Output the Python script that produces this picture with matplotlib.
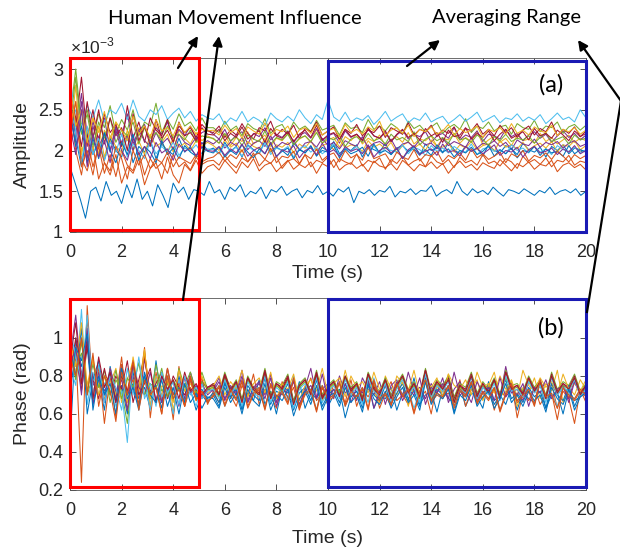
import numpy as np
import matplotlib.pyplot as plt
from matplotlib.patches import Rectangle
from matplotlib.ticker import FuncFormatter

# MATLAB default line colours
line_colors = ["#0072BD", "#D95319", "#EDB120", "#7E2F8E", "#77AC30", "#4DBEEE", "#A2142F"]

# ---- data (one sample every 0.2 s, 0..20 s) ----
# amplitude, in units of 1e-5
amp_1 = [180, 160, 140, 117, 150, 155, 138, 162, 145, 150, 135, 158, 142, 165, 140, 150, 132, 158, 145, 130, 160, 148, 155, 140, 152,
         150, 145, 162, 148, 152, 140, 155, 150, 158, 143, 150, 147, 155, 141, 152, 149, 156, 145, 150, 153, 142, 151, 148, 157, 146,
         150, 144, 153, 149, 155, 136, 150, 147, 152, 145, 151, 149, 156, 143, 150, 148, 153, 146, 151, 150, 157, 144, 149, 152, 147,
         162, 150, 145, 153, 148, 151, 146, 155, 149, 144, 152, 150, 147, 153, 149, 145, 151, 148, 155, 146, 150, 152, 148, 153, 145, 150]
amp_2 = [200, 240, 190, 175, 205, 165, 185, 170, 195, 160, 180, 172, 190, 158, 178, 185, 165, 192, 170, 160, 183, 175, 188, 172, 180,
         183, 176, 188, 180, 172, 186, 179, 190, 175, 182, 185, 174, 181, 188, 177, 183, 179, 186, 172, 184, 180, 189, 176, 182, 185,
         178, 183, 174, 187, 181, 179, 184, 176, 188, 182, 175, 183, 180, 186, 178, 184, 172, 181, 187, 179, 183, 176, 185, 181, 178,
         189, 182, 175, 184, 180, 186, 177, 183, 181, 188, 174, 182, 185, 179, 183, 176]
amp_3 = [230, 260, 200, 215, 240, 195, 225, 210, 235, 205, 220, 200, 228, 212, 205, 232, 210, 220, 198, 225, 215, 208, 222, 212, 218,
         214, 209, 220, 206, 216, 211, 223, 208, 213, 219, 205, 215, 212, 221, 207, 214, 218, 210, 226, 209, 213, 216, 204, 217, 212,
         220, 208, 215, 211, 219, 206, 213, 217, 210, 222, 208, 214, 212, 218, 205, 215, 213, 220, 209, 216, 211, 224, 207, 213, 218,
         210, 215, 206, 219, 212, 214, 209, 221, 211, 216, 208, 213, 219, 210, 215, 212]
amp_4 = [250, 220, 270, 205, 235, 215, 240, 200, 230, 218, 245, 208, 225, 232, 210, 228, 220, 235, 212, 226, 218, 230, 214, 222, 225,
         220, 214, 226, 211, 219, 223, 208, 221, 217, 228, 213, 220, 216, 224, 210, 219, 222, 215, 227, 212, 218, 221, 209, 224, 216,
         220, 213, 226, 218, 215, 222, 211, 219, 225, 214, 220, 217, 223, 210, 218, 221, 215, 228, 213, 219, 216, 224, 211, 220, 218,
         214, 226, 217, 221, 212, 219, 223, 215, 220, 210, 218, 224, 216, 221, 213, 219]
amp_5 = [240, 300, 230, 250, 215, 245, 228, 255, 220, 238, 225, 250, 218, 235, 230, 258, 222, 238, 226, 245, 230, 235, 224, 240, 228,
         228, 222, 236, 225, 230, 218, 233, 227, 224, 239, 221, 229, 232, 220, 235, 226, 230, 223, 237, 225, 228, 231, 219, 234, 227,
         229, 222, 238, 226, 230, 224, 233, 228, 220, 236, 227, 231, 223, 229, 234, 221, 228, 232, 226, 239, 222, 230, 227, 235, 224,
         229, 231, 220, 233, 228, 226, 237, 223, 230, 228, 235, 221, 229, 232, 225, 231]
amp_6 = [220, 250, 230, 255, 240, 262, 235, 250, 245, 258, 238, 262, 242, 236, 250, 244, 255, 238, 246, 252, 240, 248, 236, 244, 240,
         238, 245, 232, 240, 236, 248, 235, 241, 237, 230, 246, 239, 235, 242, 236, 250, 240, 233, 244, 238, 262, 241, 236, 247, 235,
         240, 237, 243, 232, 239, 248, 236, 241, 245, 234, 240, 237, 246, 235, 239, 242, 233, 238, 244, 236, 241, 247, 235, 239, 243,
         234, 240, 238, 245, 236, 241, 237, 244, 233, 239, 246, 238, 241, 235, 250, 240]
amp_7 = [260, 230, 290, 215, 250, 210, 245, 222, 232, 205, 255, 215, 235, 210, 240, 225, 218, 238, 212, 230, 222, 228, 216, 232, 224,
         222, 230, 216, 225, 219, 233, 221, 214, 228, 224, 236, 218, 226, 220, 231, 215, 227, 223, 235, 219, 224, 229, 213, 226, 221,
         232, 218, 225, 222, 230, 216, 228, 224, 220, 234, 219, 226, 223, 231, 217, 225, 221, 229, 215, 227, 224, 233, 220, 226, 218,
         231, 222, 228, 216, 225, 230, 219, 227, 223, 235, 218, 226, 221, 229, 217, 224]
amp_8 = [290, 215, 180, 225, 195, 210, 188, 215, 200, 192, 218, 185, 205, 198, 212, 190, 208, 200, 195, 215, 198, 205, 192, 210, 200,
         203, 196, 210, 199, 205, 192, 207, 201, 196, 212, 198, 204, 200, 194, 209, 202, 197, 206, 193, 204, 199, 211, 196, 203, 200,
         207, 192, 205, 201, 198, 209, 195, 203, 206, 199, 202, 194, 208, 200, 204, 197, 210, 201, 196, 205, 199, 203, 193, 207, 200,
         197, 206, 202, 195, 209, 201, 198, 204, 192, 205, 200, 207, 196, 203, 201, 198]
amp_9 = [260, 200, 170, 215, 180, 205, 172, 195, 168, 200, 182, 175, 198, 170, 190, 178, 185, 172, 195, 180, 186, 176, 192, 183, 187,
         188, 182, 194, 185, 179, 191, 186, 197, 181, 189, 184, 193, 178, 187, 190, 183, 195, 180, 188, 185, 192, 179, 190, 186, 183,
         196, 181, 188, 185, 191, 177, 189, 184, 193, 182, 187, 190, 180, 194, 186, 183, 189, 179, 192, 185, 188, 182, 195, 184, 187,
         181, 190, 186, 178, 193, 185, 189, 183, 191, 180, 188, 186, 194, 182, 187, 185]
amp_10 = [210, 280, 195, 225, 200, 230, 192, 218, 205, 198, 225, 200, 212, 195, 220, 205, 210, 198, 215, 204, 209, 200, 212, 206, 210,
          206, 200, 213, 204, 209, 198, 211, 205, 202, 215, 199, 207, 204, 210, 197, 208, 203, 212, 200, 206, 209, 201, 214, 203, 207,
          205, 199, 212, 204, 208, 202, 210, 197, 206, 211, 203, 208, 200, 213, 205, 204, 209, 198, 207, 203, 211, 201, 206, 208, 199,
          212, 204, 207, 202, 210, 200, 206, 209, 203, 211, 198, 207, 205, 212, 201, 206]
amp_11 = [240, 210, 260, 190, 230, 205, 220, 198, 228, 210, 218, 200, 225, 212, 205, 222, 208, 215, 202, 220, 210, 206, 216, 208, 212,
          208, 214, 203, 210, 206, 216, 201, 209, 212, 205, 218, 204, 210, 207, 213, 200, 209, 211, 204, 215, 206, 210, 202, 212, 208,
          205, 217, 203, 209, 211, 206, 214, 201, 208, 210, 204, 213, 207, 209, 202, 215, 206, 211, 208, 204, 216, 203, 209, 207, 212,
          205, 210, 201, 213, 208, 206, 214, 204, 210, 207, 211, 203, 209, 212, 205, 208]
amp_12 = [230, 290, 220, 245, 205, 235, 215, 240, 210, 225, 218, 235, 208, 228, 215, 222, 212, 230, 216, 220, 213, 225, 210, 218, 216,
          215, 209, 221, 212, 217, 206, 219, 214, 211, 224, 208, 216, 213, 220, 207, 215, 218, 211, 222, 209, 216, 213, 219, 205, 214,
          217, 210, 221, 212, 215, 208, 220, 213, 216, 211, 223, 207, 214, 218, 212, 216, 209, 221, 213, 215, 210, 219, 214, 206, 217,
          212, 220, 211, 215, 213, 218, 209, 216, 222, 211, 214, 217, 208, 219, 213, 215]
amp_13 = [300, 220, 185, 230, 195, 215, 188, 210, 198, 220, 192, 208, 200, 190, 212, 196, 205, 198, 210, 194, 203, 199, 207, 196, 202,
          201, 196, 207, 199, 204, 193, 206, 200, 197, 209, 195, 203, 200, 205, 192, 202, 206, 198, 204, 196, 201, 208, 194, 203, 199,
          205, 197, 202, 206, 195, 203, 200, 198, 207, 196, 204, 201, 194, 206, 199, 203, 197, 205, 200, 198, 208, 195, 202, 204, 199,
          201, 196, 207, 200, 203, 197, 205, 198, 202, 195, 206, 201, 199, 204, 197, 201]
amp_14 = [270, 240, 205, 260, 215, 250, 208, 240, 218, 228, 200, 245, 212, 230, 206, 238, 215, 225, 210, 235, 218, 222, 212, 228, 220,
          219, 226, 212, 221, 216, 229, 214, 220, 224, 210, 227, 218, 215, 223, 211, 220, 225, 216, 231, 213, 219, 222, 214, 226, 217,
          220, 212, 228, 218, 215, 224, 211, 220, 226, 216, 221, 213, 227, 218, 222, 210, 225, 217, 219, 228, 214, 221, 216, 224, 212,
          220, 226, 215, 219, 223, 213, 227, 218, 221, 215, 225, 219, 212, 224, 217, 221]
amp_15 = [250, 205, 230, 185, 215, 190, 222, 200, 185, 210, 195, 220, 188, 205, 198, 185, 212, 195, 203, 190, 206, 198, 193, 204, 199,
          197, 204, 192, 200, 195, 207, 198, 191, 202, 196, 209, 193, 199, 203, 190, 201, 197, 205, 194, 200, 198, 206, 191, 202, 196,
          199, 204, 193, 208, 197, 200, 195, 203, 190, 199, 205, 196, 201, 194, 207, 198, 202, 192, 200, 197, 204, 195, 199, 206, 193,
          201, 196, 203, 191, 200, 198, 205, 194, 202, 197, 199, 193, 206, 196, 201, 198]
amp_16 = [220, 260, 180, 200, 170, 210, 185, 175, 205, 190, 165, 200, 182, 195, 178, 190, 185, 198, 180, 192, 188, 184, 195, 186, 190,
          192, 198, 187, 195, 190, 201, 186, 194, 197, 189, 203, 185, 193, 191, 199, 184, 195, 190, 202, 188, 194, 197, 186, 200, 191,
          195, 188, 204, 190, 193, 196, 185, 198, 192, 189, 201, 187, 195, 193, 199, 186, 194, 190, 197, 188, 202, 191, 196, 189, 193,
          198, 185, 196, 192, 200, 187, 194, 191, 197, 189, 199, 193, 186, 195, 190, 194]
amp_17 = [280, 230, 250, 210, 240, 222, 248, 215, 235, 225, 212, 242, 220, 230, 216, 238, 224, 228, 218, 234, 222, 230, 220, 226, 224,
          225, 219, 231, 222, 227, 215, 229, 224, 220, 234, 218, 226, 223, 230, 216, 225, 228, 221, 233, 219, 224, 227, 217, 232, 222,
          226, 220, 229, 224, 236, 218, 225, 228, 221, 231, 217, 226, 223, 229, 220, 224, 232, 219, 227, 222, 225, 230, 216, 226, 223,
          228, 220, 233, 221, 225, 219, 229, 224, 222, 231, 218, 226, 223, 228, 220, 225]
amp_18 = [230, 195, 250, 180, 220, 192, 212, 185, 225, 200, 188, 215, 195, 205, 190, 210, 197, 202, 188, 208, 199, 203, 194, 205, 200,
          199, 205, 194, 202, 197, 208, 193, 200, 204, 196, 210, 192, 201, 198, 206, 191, 200, 203, 195, 209, 197, 201, 193, 205, 199,
          202, 196, 207, 192, 200, 204, 197, 203, 190, 201, 206, 195, 199, 202, 194, 208, 198, 200, 193, 205, 199, 203, 196, 201, 207,
          194, 200, 198, 204, 192, 201, 205, 197, 199, 203, 195, 202, 198, 206, 196, 200]

# phase, in hundredths of a radian
phase_1 = [45, 100, 85, 95, 65, 78, 62, 85, 70, 75, 60, 82, 68, 74, 63, 88, 66, 72, 60, 80, 67, 73, 62, 70, 66,
           70, 64, 76, 68, 73, 62, 71, 67, 78, 65, 72, 60, 74, 69, 66, 77, 63, 71, 68, 75, 64, 70, 73, 58, 69,
           72, 66, 76, 63, 70, 68, 74, 62, 71, 67, 79, 65, 70, 72, 61, 73, 68, 66, 75, 64, 71, 69, 63, 77, 67,
           70, 65, 74, 62, 72, 68, 66, 76, 63, 70, 71, 60, 73, 67, 69, 72]
phase_2 = [80, 95, 24, 117, 70, 85, 55, 80, 68, 90, 62, 75, 72, 95, 58, 82, 66, 78, 57, 85, 64, 74, 68, 79, 65,
           72, 66, 78, 70, 64, 75, 69, 81, 65, 73, 70, 63, 77, 68, 74, 62, 72, 79, 67, 71, 65, 76, 70, 66, 78,
           64, 73, 69, 75, 63, 71, 77, 67, 70, 65, 74, 68, 72, 60, 76, 69, 71, 66, 78, 64, 73, 70, 68, 75, 62,
           72, 69, 77, 58, 71, 67, 74, 65, 70, 76, 63, 72, 68, 55, 73, 66]
phase_3 = [95, 82, 100, 72, 88, 75, 68, 84, 70, 80, 66, 90, 73, 94, 64, 78, 70, 84, 62, 77, 72, 80, 67, 75, 71,
           74, 69, 80, 71, 76, 66, 78, 72, 70, 82, 68, 75, 73, 79, 65, 74, 77, 70, 81, 67, 73, 76, 69, 83, 71,
           75, 68, 78, 72, 66, 80, 73, 70, 77, 64, 75, 71, 79, 68, 74, 72, 81, 66, 76, 70, 73, 78, 67, 75, 82,
           69, 72, 77, 64, 74, 71, 79, 68, 76, 72, 83, 66, 74, 70, 78, 73]
phase_4 = [90, 112, 80, 100, 65, 82, 72, 78, 68, 86, 70, 80, 64, 89, 72, 75, 66, 84, 70, 78, 68, 82, 72, 76, 70,
           73, 79, 68, 75, 71, 83, 67, 74, 77, 70, 81, 66, 75, 72, 78, 64, 74, 84, 69, 73, 76, 68, 80, 71, 74,
           67, 79, 73, 70, 77, 65, 75, 78, 69, 82, 72, 74, 68, 76, 71, 79, 66, 73, 77, 70, 80, 67, 74, 72, 78,
           69, 85, 71, 73, 67, 77, 72, 75, 69, 80, 70, 74, 68, 78, 71, 75]
phase_5 = [100, 85, 92, 70, 80, 74, 83, 66, 78, 72, 55, 84, 74, 80, 68, 86, 72, 76, 67, 84, 74, 78, 70, 82, 73,
           76, 71, 82, 73, 78, 68, 80, 74, 72, 84, 70, 77, 75, 81, 67, 76, 79, 72, 83, 70, 75, 78, 71, 80, 74,
           77, 69, 82, 75, 72, 79, 70, 76, 81, 73, 77, 71, 84, 72, 78, 75, 80, 69, 76, 74, 82, 71, 77, 73, 79,
           70, 83, 75, 76, 72, 80, 74, 78, 70, 82, 73, 77, 75, 81, 72, 76]
phase_6 = [85, 75, 115, 65, 82, 70, 76, 80, 64, 72, 45, 86, 70, 78, 62, 80, 69, 74, 60, 78, 66, 72, 64, 76, 67,
           70, 75, 64, 72, 68, 78, 66, 71, 74, 63, 76, 69, 72, 67, 80, 65, 71, 73, 62, 75, 68, 70, 77, 64, 72,
           69, 74, 66, 79, 68, 71, 65, 76, 70, 73, 63, 72, 78, 67, 71, 69, 75, 64, 73, 70, 77, 66, 72, 68, 74,
           62, 71, 76, 67, 70, 73, 65, 78, 69, 71, 64, 75, 70, 68, 73, 70]
phase_7 = [80, 100, 72, 95, 78, 68, 84, 70, 80, 73, 88, 66, 78, 90, 70, 76, 82, 68, 80, 74, 70, 79, 72, 77, 74,
           76, 70, 81, 73, 77, 67, 79, 74, 71, 83, 69, 76, 74, 80, 66, 75, 78, 71, 82, 69, 74, 77, 70, 79, 73,
           76, 68, 81, 74, 71, 78, 69, 75, 80, 72, 76, 70, 83, 71, 77, 74, 79, 68, 75, 73, 81, 70, 76, 72, 78,
           69, 82, 74, 75, 71, 79, 73, 77, 69, 81, 72, 76, 74, 80, 71, 75]
phase_8 = [95, 80, 105, 60, 78, 88, 70, 82, 66, 85, 70, 76, 64, 82, 71, 75, 63, 80, 68, 74, 66, 78, 69, 73, 68,
           71, 66, 77, 69, 74, 63, 75, 70, 67, 79, 65, 72, 70, 76, 62, 71, 74, 67, 78, 64, 70, 73, 66, 76, 69,
           72, 63, 77, 70, 67, 75, 65, 71, 76, 68, 72, 64, 79, 67, 73, 70, 75, 61, 72, 69, 77, 66, 71, 74, 65,
           70, 78, 68, 71, 66, 74, 69, 72, 63, 76, 70, 67, 75, 64, 71, 73]
phase_9 = [100, 88, 75, 110, 68, 84, 74, 80, 58, 86, 72, 78, 65, 92, 70, 74, 60, 84, 70, 76, 64, 80, 68, 72, 67,
           69, 74, 64, 72, 67, 77, 63, 70, 73, 62, 75, 68, 71, 65, 78, 63, 70, 72, 61, 74, 67, 69, 76, 64, 71,
           68, 73, 62, 77, 67, 70, 64, 75, 69, 72, 60, 71, 77, 66, 70, 68, 74, 63, 72, 69, 76, 65, 71, 67, 73,
           61, 70, 75, 66, 69, 72, 64, 77, 68, 70, 63, 74, 69, 67, 72, 69]
phase_10 = [98, 85, 108, 75, 90, 70, 80, 76, 84, 66, 78, 88, 72, 93, 68, 80, 74, 78, 66, 83, 72, 76, 70, 80, 72,
            75, 80, 70, 77, 73, 83, 69, 76, 79, 71, 82, 68, 76, 73, 81, 67, 75, 78, 72, 84, 70, 76, 79, 69, 80,
            74, 77, 71, 82, 73, 75, 68, 80, 76, 72, 83, 70, 77, 74, 79, 69, 81, 75, 73, 78, 70, 82, 74, 76, 71,
            80, 73, 78, 69, 83, 75, 72, 79, 74, 77, 70, 81, 73, 76, 72, 78]
phase_11 = [85, 95, 70, 105, 75, 80, 66, 84, 72, 78, 62, 86, 74, 70, 82, 67, 80, 72, 77, 64, 79, 71, 75, 68, 73,
            72, 77, 67, 74, 70, 80, 66, 73, 76, 68, 79, 64, 73, 71, 77, 65, 72, 75, 68, 81, 67, 73, 70, 76, 66,
            74, 71, 78, 63, 72, 75, 69, 77, 67, 73, 70, 79, 65, 74, 71, 76, 68, 82, 70, 72, 66, 77, 71, 74, 67,
            79, 69, 73, 70, 76, 64, 74, 71, 78, 68, 73, 75, 66, 77, 70, 72]
phase_12 = [92, 78, 98, 72, 86, 74, 80, 70, 83, 68, 79, 74, 87, 70, 76, 73, 84, 69, 78, 72, 75, 82, 71, 77, 73,
            74, 69, 79, 72, 76, 67, 78, 73, 70, 81, 68, 75, 72, 78, 66, 74, 77, 70, 80, 68, 73, 76, 71, 79, 72,
            75, 67, 80, 73, 70, 77, 69, 74, 79, 71, 75, 68, 82, 70, 76, 73, 78, 67, 74, 72, 80, 69, 75, 71, 77,
            68, 79, 73, 74, 70, 78, 72, 76, 68, 80, 71, 75, 73, 79, 70, 74]
phase_13 = [105, 90, 78, 112, 70, 86, 66, 80, 74, 62, 84, 70, 90, 68, 76, 64, 82, 71, 77, 65, 80, 70, 74, 68, 72,
            73, 68, 78, 70, 75, 64, 77, 71, 69, 80, 66, 74, 71, 77, 63, 73, 76, 69, 79, 66, 72, 75, 68, 78, 70,
            74, 65, 79, 72, 69, 76, 67, 73, 78, 70, 74, 66, 81, 69, 75, 72, 77, 64, 73, 71, 79, 68, 74, 70, 76,
            67, 80, 72, 73, 69, 77, 71, 75, 66, 79, 70, 74, 72, 78, 69, 73]
phase_14 = [88, 108, 76, 98, 68, 90, 74, 82, 66, 80, 72, 87, 70, 76, 84, 66, 80, 73, 78, 68, 82, 72, 76, 70, 74,
            75, 70, 80, 72, 77, 66, 79, 73, 70, 82, 68, 76, 73, 79, 65, 75, 78, 70, 81, 68, 74, 77, 69, 80, 72,
            76, 67, 81, 73, 70, 78, 68, 75, 80, 71, 76, 69, 83, 70, 77, 73, 78, 66, 75, 72, 80, 69, 76, 71, 78,
            68, 82, 73, 75, 70, 79, 72, 77, 68, 80, 71, 76, 73, 79, 70, 75]
phase_15 = [70, 95, 88, 102, 62, 80, 70, 76, 60, 84, 68, 74, 62, 80, 70, 66, 78, 64, 74, 60, 76, 66, 71, 63, 69,
            68, 63, 74, 66, 71, 60, 73, 67, 64, 76, 62, 70, 67, 73, 59, 68, 72, 65, 75, 62, 69, 71, 64, 74, 66,
            70, 61, 75, 68, 65, 72, 63, 69, 74, 66, 70, 62, 77, 65, 71, 68, 73, 60, 70, 67, 75, 64, 69, 72, 63,
            68, 76, 66, 70, 64, 72, 67, 70, 61, 74, 68, 65, 73, 62, 69, 71]
phase_16 = [90, 80, 100, 70, 92, 64, 80, 72, 56, 82, 70, 88, 62, 78, 70, 74, 60, 80, 68, 73, 64, 78, 67, 72, 66,
            70, 75, 65, 73, 68, 78, 64, 71, 74, 63, 76, 69, 72, 66, 79, 64, 71, 73, 62, 75, 68, 70, 77, 65, 72,
            69, 74, 63, 78, 68, 71, 65, 76, 70, 73, 61, 72, 78, 67, 71, 69, 75, 64, 73, 70, 77, 66, 72, 68, 74,
            62, 71, 76, 67, 70, 73, 65, 78, 69, 71, 57, 74, 70, 68, 73, 70]

amp_series = [amp_1, amp_2, amp_3, amp_4, amp_5, amp_6, amp_7, amp_8, amp_9,
              amp_10, amp_11, amp_12, amp_13, amp_14, amp_15, amp_16, amp_17, amp_18]
phase_series = [phase_1, phase_2, phase_3, phase_4, phase_5, phase_6, phase_7, phase_8,
                phase_9, phase_10, phase_11, phase_12, phase_13, phase_14, phase_15, phase_16]

time_ticks = [0, 2, 4, 6, 8, 10, 12, 14, 16, 18, 20]
amp_ticks = [1e-3, 1.5e-3, 2e-3, 2.5e-3, 3e-3]
phase_ticks = [0.2, 0.4, 0.6, 0.8, 1.0]
influence_span = (0, 5)
averaging_span = (10, 20)

W, H = 620, 548
note_font = "Lato"
txt = "#262626"
plt.rcParams["font.family"] = "Liberation Sans"

fig = plt.figure(figsize=(W / 100, H / 100), dpi=100)
ax1 = fig.add_axes([70 / W, 1 - 232 / H, 516 / W, 174 / H])
ax2 = fig.add_axes([70 / W, 1 - 490 / H, 516 / W, 192 / H])

for i, y in enumerate(amp_series):
    y = np.array(y) * 1e-5
    t = np.linspace(0, 20, len(y))
    ax1.plot(t, y, color=line_colors[i % 7], lw=0.75)

for i, y in enumerate(phase_series):
    y = np.array(y) / 100
    t = np.linspace(0, 20, len(y))
    ax2.plot(t, y, color=line_colors[i % 7], lw=0.75)

ax1.set_ylim(1e-3, 3.135e-3)
ax2.set_ylim(0.2, 1.21)
ax1.set_yticks(amp_ticks)
ax2.set_yticks(phase_ticks)
ax1.yaxis.set_major_formatter(FuncFormatter(lambda v, _: f"{v * 1e3:g}"))
ax2.yaxis.set_major_formatter(FuncFormatter(lambda v, _: f"{v:g}"))

for ax in (ax1, ax2):
    ax.set_xlim(0, 20)
    ax.set_xticks(time_ticks)
    ax.tick_params(direction="in", top=True, right=True, length=4, width=0.6,
                   color="#333333", labelsize=13, labelcolor=txt, pad=5)
    ax.tick_params(axis="x", pad=8.5)
    for sp in ax.spines.values():
        sp.set_color("#555555")
        sp.set_linewidth(0.6)

ax1.set_xlabel("Time (s)", fontsize=14, color=txt, labelpad=3)
ax2.set_xlabel("Time (s)", fontsize=14, color=txt, labelpad=8)
ax1.set_ylabel("Amplitude", fontsize=14, color=txt, labelpad=5)
ax2.set_ylabel("Phase (rad)", fontsize=14, color=txt, labelpad=5)
ax1.text(0.0, 1.012, "×10$^{\\mathregular{-3}}$", transform=ax1.transAxes, ha="left", va="bottom",
         fontsize=12.5, color=txt)

# highlighted ranges
ax1.add_patch(Rectangle((influence_span[0], 1.025e-3), influence_span[1] - influence_span[0], 2.105e-3,
                        fill=False, ec="#ff0000", lw=2.2, clip_on=False, zorder=5))
ax1.add_patch(Rectangle((averaging_span[0], 1.0e-3), averaging_span[1] - averaging_span[0], 2.098e-3,
                        fill=False, ec="#1a1ab4", lw=2.2, clip_on=False, zorder=5))
ax2.add_patch(Rectangle((influence_span[0], 0.217), influence_span[1] - influence_span[0], 0.988,
                        fill=False, ec="#ff0000", lw=2.2, clip_on=False, zorder=5))
ax2.add_patch(Rectangle((averaging_span[0], 0.215), averaging_span[1] - averaging_span[0], 0.99,
                        fill=False, ec="#1a1ab4", lw=2.2, clip_on=False, zorder=5))

ax1.text(0.932, 0.845, "(a)", transform=ax1.transAxes, ha="center", va="center",
         fontsize=17, family=note_font, color="black")
ax2.text(0.932, 0.844, "(b)", transform=ax2.transAxes, ha="center", va="center",
         fontsize=17, family=note_font, color="black")

# annotation layer in pixel coordinates
ov = fig.add_axes([0, 0, 1, 1])
ov.set_xlim(0, W)
ov.set_ylim(H, 0)
ov.axis("off")
ov.set_zorder(10)

ov.text(235, 18, "Human Movement Influence", ha="center", va="center", fontsize=14.5, family=note_font)
ov.text(506, 18, "Averaging Range", ha="center", va="center", fontsize=14.5, family=note_font)

arrow = dict(arrowstyle="-|>", color="black", lw=1.6, mutation_scale=14, shrinkA=0, shrinkB=0)
ov.annotate("", xy=(198, 36), xytext=(178, 68), arrowprops=arrow)
ov.annotate("", xy=(219, 36), xytext=(183, 300), arrowprops=arrow)
ov.annotate("", xy=(440, 40), xytext=(407, 66), arrowprops=arrow)
ov.annotate("", xy=(578, 40), xytext=(621, 101), arrowprops=arrow, annotation_clip=False)
ov.plot([587, 621], [312, 101], color="black", lw=1.6, clip_on=False)

fig.savefig("out.png", dpi=100)
